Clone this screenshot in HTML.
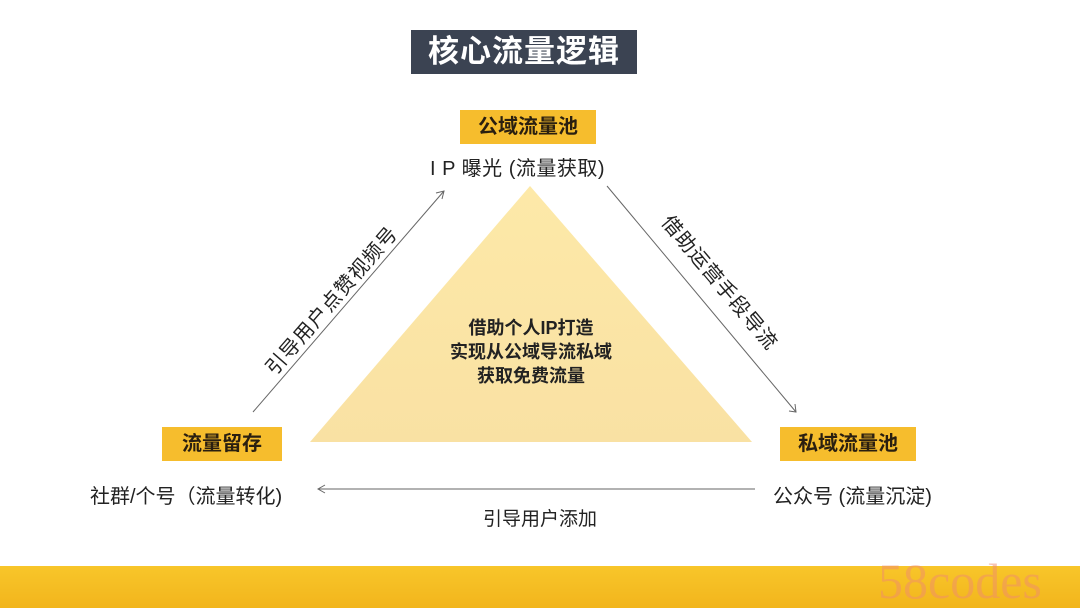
<!DOCTYPE html>
<html><head><meta charset="utf-8"><style>
body{margin:0;width:1080px;height:608px;background:#fff;position:relative;overflow:hidden;font-family:"Liberation Sans","Noto Sans CJK SC",sans-serif;}
.a{position:absolute;white-space:nowrap;}
.tag{position:absolute;background:#f6bd2d;color:#2a1f10;font-weight:bold;font-size:20px;text-align:center;line-height:34px;height:34px;}
.t{font-size:20px;color:#222;}
</style></head><body>
<div class="a" style="left:411px;top:30px;width:226px;height:44px;background:#3b4352;color:#fff;font-weight:bold;font-size:31px;line-height:44px;text-align:center;letter-spacing:1px">核心流量逻辑</div>
<svg class="a" style="left:0;top:0" width="1080" height="608">
<defs><linearGradient id="g" x1="0" y1="0" x2="0" y2="1"><stop offset="0" stop-color="#fde9a8"/><stop offset="1" stop-color="#f9e1a3"/></linearGradient>
<linearGradient id="b" x1="0" y1="0" x2="0" y2="1"><stop offset="0" stop-color="#f8c62a"/><stop offset="1" stop-color="#f2b51c"/></linearGradient></defs>
<polygon points="530,186 310,442 752,442" fill="url(#g)"/>
<line x1="253" y1="412" x2="444" y2="191" stroke="#666" stroke-width="1"/>
<polyline points="436,193 444,191 442,199" fill="none" stroke="#666"/>
<line x1="607" y1="186" x2="796" y2="412" stroke="#666" stroke-width="1"/>
<polyline points="789,411 796,412 795,404" fill="none" stroke="#666"/>
<line x1="318" y1="489" x2="755" y2="489" stroke="#666" stroke-width="1"/>
<polyline points="325,485 318,489 325,493" fill="none" stroke="#666"/>
<rect x="0" y="566" width="1080" height="42" fill="url(#b)"/>
</svg>
<div class="tag" style="left:460px;top:110px;width:136px">公域流量池</div>
<div class="a t" style="left:430px;top:152px;letter-spacing:0.5px">I P 曝光 (流量获取)</div>
<div class="tag" style="left:162px;top:427px;width:120px">流量留存</div>
<div class="a t" style="left:90px;top:480px">社群/个号（流量转化)</div>
<div class="tag" style="left:780px;top:427px;width:136px">私域流量池</div>
<div class="a t" style="left:773px;top:480px">公众号 (流量沉淀)</div>
<div class="a t" style="left:483px;top:504px;font-size:19px">引导用户添加</div>
<div class="a" style="left:426px;top:316px;width:210px;text-align:center;font-weight:bold;font-size:18px;line-height:24px;color:#222">借助个人IP打造<br>实现从公域导流私域<br>获取免费流量</div>
<div class="a t" style="left:236px;top:285px;font-size:20px;letter-spacing:1px;transform:rotate(-49deg);transform-origin:center">引导用户点赞视频号</div>
<div class="a t" style="left:637px;top:267px;font-size:20px;letter-spacing:1px;transform:rotate(50deg);transform-origin:center">借助运营手段导流</div>
<div class="a" style="left:878px;top:552px;font-family:'Liberation Serif',serif;font-size:50px;color:rgba(240,140,110,0.5)">58codes</div>
</body></html>
